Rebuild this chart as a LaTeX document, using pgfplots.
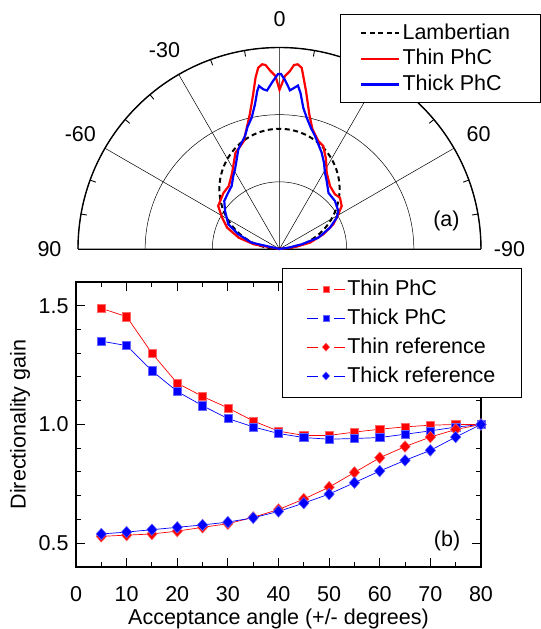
\documentclass[border=0pt]{standalone}
\usepackage{fontspec}
\setmainfont{Liberation Sans}
\usepackage{pgfplots}
\pgfplotsset{compat=1.18}
\usepgfplotslibrary{polar}

\begin{document}
\fontsize{21.5}{25}\selectfont
\begin{tikzpicture}

% (b) directionality gain
\begin{axis}[
    at={(0pt,0pt)}, anchor=south west,
    scale only axis, width=405pt, height=285pt,
    font=\fontsize{21.5}{25}\selectfont,
    xmin=0, xmax=80, ymin=0.4, ymax=1.6,
    xtick={0,10,...,80}, minor x tick num=1,
    ytick={0.5,1.0,1.5}, minor y tick num=4,
    tick align=inside,
    major tick length=9pt, minor tick length=5pt,
    every tick/.style={black, line width=1pt},
    axis line style={line width=1.3pt},
    xticklabel style={/pgf/number format/assume math mode=true, yshift=-12pt},
    yticklabel style={/pgf/number format/fixed, /pgf/number format/fixed zerofill,
        /pgf/number format/precision=1, /pgf/number format/assume math mode=true},
    xlabel={Acceptance angle (+/- degrees)},
    ylabel={Directionality gain},
    x label style={at={(axis description cs:0.5,0)}, anchor=center, inner sep=0pt, yshift=-52pt},
    y label style={at={(axis description cs:-0.138,0.5)}, anchor=center, inner sep=0pt},
    legend cell align=left,
    legend style={at={(1.101,1.050)}, anchor=north east, draw=black, line width=0.8pt,
        fill=white, inner xsep=24pt, inner ysep=10pt, row sep=6pt,
        font=\fontsize{21.5}{25}\selectfont},
    legend image code/.code={
        \draw[#1, mark=none] (0pt,0pt) -- (11pt,0pt);
        \draw[#1, mark=none] (27pt,0pt) -- (38pt,0pt);
        \path[#1, every mark/.append style={scale=0.7}] plot coordinates {(19pt,0pt)};
    },
]
\addplot[red, line width=0.7pt, mark=square*, mark size=4.1pt,
    mark options={fill=red, draw=red!60!white, line width=0.5pt}] coordinates {
    (5,1.489) (10,1.454) (15,1.300) (20,1.174) (25,1.118) (30,1.070) (35,1.015) (40,0.972)
    (45,0.954) (50,0.954) (55,0.968) (60,0.980) (65,0.990) (70,0.997) (75,1.000) (80,1.000)
};
\addlegendentry{Thin PhC}
\addplot[blue, line width=0.7pt, mark=square*, mark size=4.1pt,
    mark options={fill=blue, draw=blue!60!white, line width=0.5pt}] coordinates {
    (5,1.351) (10,1.332) (15,1.226) (20,1.139) (25,1.079) (30,1.025) (35,0.990) (40,0.962)
    (45,0.945) (50,0.938) (55,0.941) (60,0.945) (65,0.959) (70,0.973) (75,0.989) (80,1.000)
};
\addlegendentry{Thick PhC}
\addplot[red, line width=0.7pt, mark=diamond*, mark size=5.8pt,
    mark options={fill=red, draw=red!60!white, line width=0.5pt, xscale=1.2}] coordinates {
    (5,0.529) (10,0.534) (15,0.539) (20,0.551) (25,0.567) (30,0.582) (35,0.609) (40,0.642)
    (45,0.686) (50,0.736) (55,0.798) (60,0.860) (65,0.907) (70,0.947) (75,0.979) (80,1.000)
};
\addlegendentry{Thin reference}
\addplot[blue, line width=0.7pt, mark=diamond*, mark size=5.8pt,
    mark options={fill=blue, draw=blue!60!white, line width=0.5pt, xscale=1.2}] coordinates {
    (5,0.539) (10,0.547) (15,0.557) (20,0.567) (25,0.577) (30,0.589) (35,0.607) (40,0.634)
    (45,0.669) (50,0.707) (55,0.755) (60,0.804) (65,0.849) (70,0.891) (75,0.947) (80,1.000)
};
\addlegendentry{Thick reference}
\node at (axis cs:73.3,0.511) {(b)};
\end{axis}

% (a) angular emission pattern
\begin{polaraxis}[
    at={(203.5pt,318pt)}, anchor=origin,
    scale only axis, width=403pt,
    font=\fontsize{21.5}{25}\selectfont,
    xmin=0, xmax=180, ymin=0, ymax=3,
    xtick={0,30,...,180}, xticklabels={-90,60,,0,-30,-60,90},
    minor xtick={},
    ytick={1,2,3}, yticklabels={},
    xmajorgrids, ymajorgrids,
    grid style={black, line width=0.5pt},
    major tick length=0pt,
    ytick style={draw=none},
    xticklabel style={anchor=center, shift={(\tick:28.5pt)}},
    separate axis lines,
    x axis line style={line width=1.4pt},
    y axis line style={line width=0.6pt},
    clip=false,
    unbounded coords=jump,
    legend cell align=left,
    legend style={at={(axis cs:41.99,5.229)}, anchor=north east, draw=black, line width=0.8pt,
        fill=white, inner xsep=20pt, inner ysep=7pt, row sep=3pt,
        font=\fontsize{21.5}{25}\selectfont},
    legend image code/.code={\draw[#1] (0pt,0pt) -- (38pt,0pt);},
]
% short tick marks on the outer arc, every 10 degrees
\addplot[black, line width=0.9pt, forget plot] coordinates {
    (10,2.91) (10,3) (10,nan) (20,2.91) (20,3) (20,nan)
    (40,2.91) (40,3) (40,nan) (50,2.91) (50,3) (50,nan)
    (70,2.91) (70,3) (70,nan) (80,2.91) (80,3) (80,nan)
    (100,2.91) (100,3) (100,nan) (110,2.91) (110,3) (110,nan)
    (130,2.91) (130,3) (130,nan) (140,2.91) (140,3) (140,nan)
    (160,2.91) (160,3) (160,nan) (170,2.91) (170,3)
};
\addplot[line width=2pt, draw=black, dash pattern=on 5pt off 3.5pt, smooth, forget plot] coordinates {
    (0,0) (5,0.156) (10,0.311) (15,0.463) (20,0.612) (25,0.756) (30,0.895) (35,1.027)
    (40,1.151) (45,1.266) (50,1.371) (55,1.466) (60,1.550) (65,1.622) (70,1.682) (75,1.729)
    (80,1.763) (85,1.783) (90,1.790) (95,1.783) (100,1.763) (105,1.729) (110,1.682)
    (115,1.622) (120,1.550) (125,1.466) (130,1.371) (135,1.266) (140,1.151) (145,1.027)
    (150,0.895) (155,0.756) (160,0.612) (165,0.463) (170,0.311) (175,0.156) (180,0)
};
\addplot[line width=2.2pt, draw=red, data cs=cart, forget plot] coordinates {
    (0,0) (-0.383,0.070) (-0.606,0.168) (-0.779,0.317) (-0.853,0.466) (-0.913,0.640)
    (-0.834,0.834) (-0.755,0.938) (-0.704,1.136) (-0.680,1.285) (-0.655,1.434)
    (-0.581,1.533) (-0.531,1.608) (-0.491,1.787) (-0.442,2.006) (-0.392,2.303)
    (-0.357,2.550) (-0.317,2.699) (-0.258,2.750) (-0.208,2.739) (-0.134,2.650)
    (-0.060,2.576) (0.000,2.370) (0.082,2.576) (0.156,2.650) (0.216,2.739)
    (0.271,2.750) (0.330,2.699) (0.354,2.576) (0.395,2.352) (0.444,2.006)
    (0.490,1.787) (0.578,1.608) (0.652,1.533) (0.692,1.340) (0.703,1.136)
    (0.752,0.938) (0.826,0.814) (0.901,0.764) (0.926,0.640) (0.875,0.517)
    (0.801,0.368) (0.652,0.219) (0.454,0.094) (0.231,0.030) (0,0)
};
\addplot[line width=2.2pt, draw=blue, data cs=cart, forget plot] coordinates {
    (0,0) (-0.414,0.094) (-0.613,0.219) (-0.762,0.368) (-0.811,0.566) (-0.822,0.715)
    (-0.767,0.834) (-0.712,0.938) (-0.688,1.087) (-0.662,1.187) (-0.637,1.335)
    (-0.613,1.484) (-0.563,1.583) (-0.514,1.682) (-0.476,1.816) (-0.414,1.955)
    (-0.365,2.154) (-0.331,2.352) (-0.305,2.427) (-0.241,2.378) (-0.186,2.360)
    (-0.097,2.501) (-0.022,2.605) (0.022,2.605) (0.082,2.516) (0.156,2.363)
    (0.216,2.397) (0.275,2.434) (0.313,2.323) (0.354,2.104) (0.405,1.955)
    (0.469,1.801) (0.529,1.682) (0.578,1.559) (0.628,1.434) (0.662,1.285)
    (0.677,1.136) (0.703,1.012) (0.730,0.834) (0.826,0.715) (0.875,0.566)
    (0.852,0.466) (0.752,0.317) (0.578,0.168) (0.331,0.070) (0.131,0.019) (0,0)
};
\addlegendimage{line width=2pt, draw=black, dash pattern=on 5pt off 3.5pt}
\addlegendentry{Lambertian\hspace*{8pt}}
\addlegendimage{line width=2.2pt, draw=red}
\addlegendentry{Thin PhC}
\addlegendimage{line width=2.2pt, draw=blue}
\addlegendentry{Thick PhC}
\node at (axis cs:9.5,2.52) {(a)};
\end{polaraxis}

% page frame matching the reference canvas
\path (-76pt,-62pt) rectangle (449pt,567pt);
\end{tikzpicture}
\end{document}
